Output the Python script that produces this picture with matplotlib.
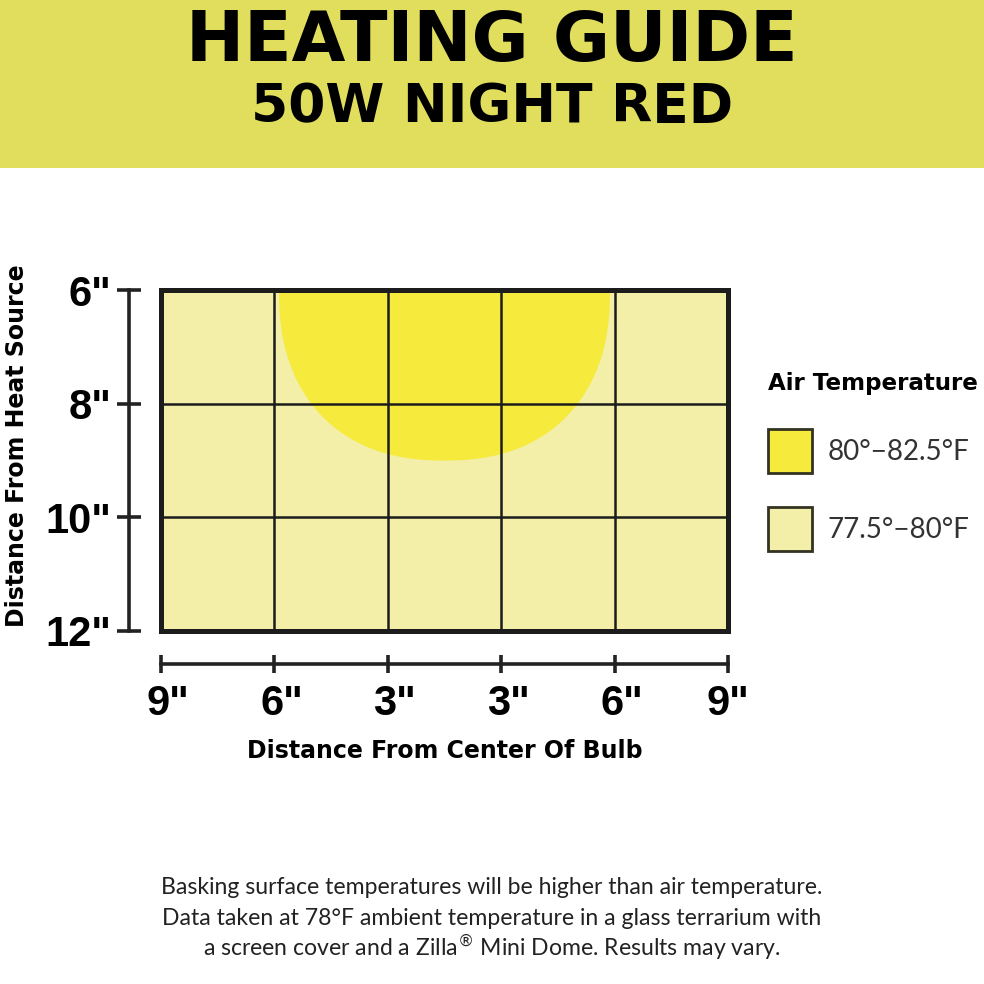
import numpy as np
import matplotlib
matplotlib.use("Agg")
import matplotlib.pyplot as plt
import matplotlib.transforms as mtransforms
from matplotlib.patches import Rectangle, Patch
from matplotlib.font_manager import FontProperties

# ---------------- data ----------------
title_line1 = "HEATING GUIDE"
title_line2 = "50W NIGHT RED"
x_tick_labels = ['9"', '6"', '3"', '3"', '6"', '9"']
x_positions = [0, 1, 2, 3, 4, 5]          # column boundaries
depth_values = [6, 8, 10, 12]              # inches from heat source
y_tick_labels = ['6"', '8"', '10"', '12"']
x_label = "Distance From Center Of Bulb"
y_label = "Distance From Heat Source"
legend_title = "Air Temperature"
legend_labels = ["80°\u221282.5°F", "77.5°\u221280°F"]
# hot zone (80-82.5 F): centre column position, half-width (columns), max depth (in)
hot_center = 2.5
hot_half_width = 1.46
hot_max_depth = 9.0
hot_shape_exp = 2.3
footnote_lines = [
    "Basking surface temperatures will be higher than air temperature.",
    "Data taken at 78°F ambient temperature in a glass terrarium with",
    "a screen cover and a Zilla$^{\\circledR}$ Mini Dome. Results may vary.",
]

# ---------------- style ----------------
HEADER = "#e0de5c"
HOT = "#f6ea3c"
WARM = "#f3efa8"
INK = "#1c1c1c"
HEAVY = ["DejaVu Sans"]
BOLD = ["Liberation Sans", "DejaVu Sans"]
BOOK = ["Lato", "DejaVu Sans"]

W = H = 984
fig = plt.figure(figsize=(9.84, 9.84), dpi=100)
fig.patch.set_facecolor("white")

# header band
hdr = fig.add_axes([0, 1 - 168 / H, 1, 168 / H])
hdr.set_facecolor(HEADER)
hdr.set_xticks([]); hdr.set_yticks([])
for s in hdr.spines.values():
    s.set_visible(False)
fig.text(0.5, 1 - 61 / H, title_line1, ha="center", va="baseline",
         fontsize=50, fontweight="bold", family=HEAVY, color="black")
fig.text(0.5, 1 - 122 / H, title_line2, ha="center", va="baseline",
         fontsize=38.5, fontweight="bold", family=HEAVY, color="black")

# main grid axes
ax = fig.add_axes([161 / W, 1 - 631 / H, 567 / W, 341 / H])
ax.set_xlim(x_positions[0], x_positions[-1])
ax.set_ylim(depth_values[-1], depth_values[0])
ax.set_facecolor(WARM)

# hot zone: superellipse hanging from the top
t = np.linspace(0, np.pi, 400)
c, s = np.cos(t), np.sin(t)
hx = hot_center + hot_half_width * np.sign(c) * np.abs(c) ** (2 / hot_shape_exp)
hy = depth_values[0] + (hot_max_depth - depth_values[0]) * np.abs(s) ** (2 / hot_shape_exp)
ax.fill(hx, hy, color=HOT, lw=0, zorder=1)

for xv in x_positions[1:-1]:
    ax.axvline(xv, color=INK, lw=1.8, zorder=3)
for yv in depth_values[1:-1]:
    ax.axhline(yv, color=INK, lw=1.8, zorder=3)
ax.add_patch(Rectangle((x_positions[0], depth_values[0]),
                       x_positions[-1] - x_positions[0],
                       depth_values[-1] - depth_values[0],
                       fill=False, ec=INK, lw=3.6, zorder=4, clip_on=False))

# axis bars
for k in ("top", "right"):
    ax.spines[k].set_visible(False)
ax.spines["left"].set_position(("outward", 23))
ax.spines["bottom"].set_position(("outward", 24))
for k in ("left", "bottom"):
    ax.spines[k].set_linewidth(2.6)
    ax.spines[k].set_color("#222222")
ax.set_yticks(depth_values)
ax.set_yticklabels(y_tick_labels)
ax.set_xticks(x_positions)
ax.set_xticklabels(x_tick_labels)
ax.tick_params(axis="y", direction="inout", length=17, width=2.6, color="#222222", pad=4)
ax.tick_params(axis="x", direction="inout", length=13, width=2.6, color="#222222", pad=8)
for lab in ax.get_xticklabels() + ax.get_yticklabels():
    lab.set_fontsize(30)
    lab.set_fontweight("bold")
    lab.set_family(BOLD)
    lab.set_color("black")
# the digit (not the whole label) sits on the tick, as in the original artwork
shift = mtransforms.ScaledTranslation(7 / 100, 0, fig.dpi_scale_trans)
for lab in ax.get_xticklabels()[:-1]:
    lab.set_transform(lab.get_transform() + shift)

fig.text(445 / W, 1 - 751 / H, x_label, ha="center", va="center",
         fontsize=17, fontweight="bold", family=HEAVY)
fig.text(17 / W, 1 - 446 / H, y_label, ha="center", va="center", rotation=90,
         fontsize=17, fontweight="bold", family=HEAVY)

# legend
handles = [Patch(facecolor=HOT, edgecolor="#333322", lw=2),
           Patch(facecolor=WARM, edgecolor="#333322", lw=2)]
leg = fig.legend(handles, legend_labels, loc="upper left",
                 bbox_to_anchor=(768 / W, 1 - 372 / H),
                 title=legend_title, alignment="left", frameon=False,
                 prop=FontProperties(family=BOOK, size=20),
                 title_fontproperties=FontProperties(family=HEAVY, weight="bold", size=16.6),
                 handlelength=1.58, handleheight=2.06, handletextpad=0.55,
                 labelspacing=1.22, borderpad=0, borderaxespad=0)
for txt in leg.get_texts():
    txt.set_color("#333333")

# footnote (one baseline per line)
for line, base in zip(footnote_lines, [894, 925, 956]):
    fig.text(0.5, 1 - base / H, line, ha="center", va="baseline",
             fontsize=16.6, family=BOOK, color="#222222")

fig.savefig("out.png", dpi=100, facecolor="white")
